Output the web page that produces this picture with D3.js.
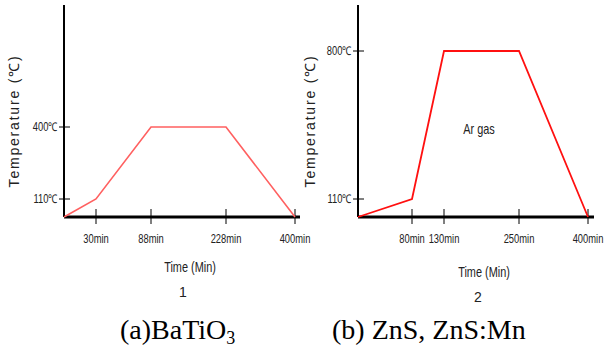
<!DOCTYPE html>
<html lang="en">
<head>
    <meta charset="UTF-8">
    <title>Heating profiles</title>
</head>
<style>
    body { margin: 0; background: #fff; }
    .axis-line { stroke: #000; fill: none; }
    .tick-lab { font-family: "Liberation Sans", Arial, sans-serif; font-size: 12px; fill: #222; }
    .title { font-family: "Liberation Sans", Arial, sans-serif; font-size: 14px; fill: #222; }
    .caption { font-family: "Liberation Serif", "Times New Roman", serif; font-size: 28px; fill: #000; }
</style>
<body>
<svg width="607" height="352"></svg>
<script src="https://d3js.org/d3.v7.min.js"></script>
<script>
    // panel 1 : BaTiO3
    var timesA = [0, 30, 88, 228, 400];
    var tempsA = [0, 110, 400, 400, 0];
    var xTicksA = [30, 88, 228, 400];
    var yTicksA = [110, 400];
    // panel 2 : ZnS, ZnS:Mn
    var timesB = [0, 80, 130, 250, 400];
    var tempsB = [0, 110, 800, 800, 0];
    var xTicksB = [80, 130, 250, 400];
    var yTicksB = [110, 800];

    var svg = d3.select("svg");
    var h = 212, w = 236;
    var narrow = " scale(0.78,1)"; // the original lettering is condensed

    function panel(opt) {
        var g = svg.append("g").attr("transform", "translate(" + opt.left + ",5)");
        // schematic (non-linear) axes, so piecewise scales
        var x = d3.scaleLinear().domain(opt.xDom).range(opt.xRange);
        var y = d3.scaleLinear().domain(opt.yDom).range(opt.yRange);

        // y axis
        g.append("line").attr("class", "axis-line")
            .attr("x1", 0).attr("x2", 0).attr("y1", 0).attr("y2", h)
            .attr("stroke-width", 2);
        // x axis
        g.append("line").attr("class", "axis-line")
            .attr("x1", 0).attr("x2", w).attr("y1", h).attr("y2", h)
            .attr("stroke-width", 3);

        g.selectAll(".xt").data(opt.xTicks).enter().append("line")
            .attr("class", "axis-line")
            .attr("x1", function (d) { return x(d); })
            .attr("x2", function (d) { return x(d); })
            .attr("y1", h - 8).attr("y2", h + 7)
            .attr("stroke-width", 1);
        g.selectAll(".xl").data(opt.xTicks).enter().append("text")
            .attr("class", "tick-lab")
            .attr("transform", function (d) { return "translate(" + x(d) + "," + (h + 26) + ")" + narrow; })
            .attr("text-anchor", "middle")
            .text(function (d) { return d + "min"; });

        g.selectAll(".yt").data(opt.yTicks).enter().append("line")
            .attr("class", "axis-line")
            .attr("x1", -5).attr("x2", 6)
            .attr("y1", function (d) { return y(d); })
            .attr("y2", function (d) { return y(d); })
            .attr("stroke-width", 1);
        g.selectAll(".yl").data(opt.yTicks).enter().append("text")
            .attr("class", "tick-lab")
            .attr("transform", function (d) { return "translate(-6," + y(d) + ")" + narrow; })
            .attr("dy", "0.35em")
            .attr("text-anchor", "end")
            .text(function (d) { return d + "\u2103"; });

        // axis titles
        g.append("text").attr("class", "title")
            .attr("transform", "translate(" + opt.yTitleX + "," + 116 + ") rotate(-90)")
            .attr("text-anchor", "middle")
            .attr("letter-spacing", "1.8px")
            .text("Temperature (\u2103)");
        g.append("text").attr("class", "title")
            .attr("transform", "translate(" + opt.xTitleX + "," + opt.xTitleY + ")" + narrow)
            .attr("text-anchor", "middle")
            .text("Time (Min)");
        g.append("text").attr("class", "title")
            .attr("x", opt.numX).attr("y", opt.xTitleY + 25)
            .attr("text-anchor", "middle")
            .text(opt.num);

        var line = d3.line()
            .x(function (d) { return x(d[0]); })
            .y(function (d) { return y(d[1]); });
        g.append("path")
            .datum(d3.zip(opt.times, opt.temps))
            .attr("fill", "none")
            .attr("stroke", opt.color)
            .attr("stroke-width", opt.lw)
            .attr("d", line);
        return g;
    }

    panel({
        left: 64, times: timesA, temps: tempsA, xTicks: xTicksA, yTicks: yTicksA,
        xDom: [0, 30, 88, 228, 400], xRange: [0, 32, 87, 162, 231],
        yDom: [0, 110, 400], yRange: [h, h - 18, h - 90],
        yTitleX: -45, xTitleX: 126, xTitleY: 267, numX: 119, num: "1",
        color: "#ff6060", lw: 1.6
    });
    var g2 = panel({
        left: 358, times: timesB, temps: tempsB, xTicks: xTicksB, yTicks: yTicksB,
        xDom: [0, 80, 130, 250, 400], xRange: [0, 54, 86, 161, 230],
        yDom: [0, 110, 800], yRange: [h, h - 18, h - 166],
        yTitleX: -43, xTitleX: 126, xTitleY: 272, numX: 120, num: "2",
        color: "#ff1010", lw: 1.8
    });
    g2.append("text").attr("class", "title")
        .attr("transform", "translate(121,129)" + narrow)
        .attr("text-anchor", "middle")
        .text("Ar gas");

    // captions
    var cap1 = svg.append("text").attr("class", "caption").attr("x", 120).attr("y", 339);
    cap1.append("tspan").text("(a)BaTiO");
    cap1.append("tspan").attr("font-size", "18px").attr("dy", 5).text("3");
    svg.append("text").attr("class", "caption").attr("x", 332).attr("y", 339).text("(b) ZnS, ZnS:Mn");
</script>
</body>
</html>
